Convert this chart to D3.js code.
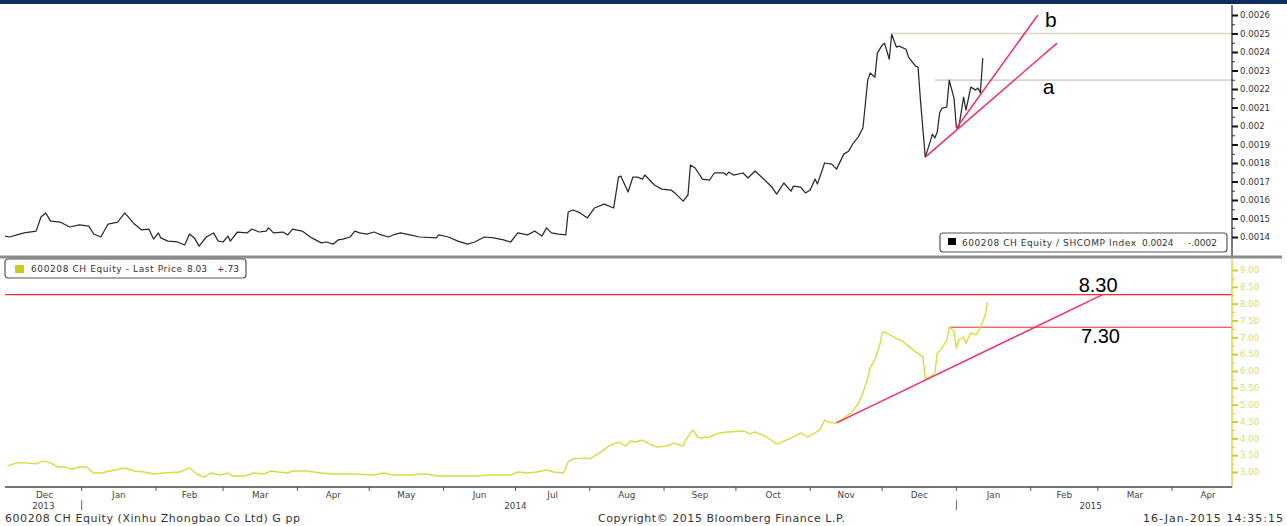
<!DOCTYPE html>
<html><head><meta charset="utf-8">
<script src="https://cdn.jsdelivr.net/npm/d3@7"></script>
<style>html,body{margin:0;padding:0;background:#fff;} svg{display:block;}</style>
</head><body><svg id="c" width="1287" height="526"></svg>
<script>
// ---------- DATA ----------
const ratioSeries = [
["2013-11-30",0.001405],["2013-12-02",0.001400],["2013-12-06",0.001416],["2013-12-08",0.001422],["2013-12-13",0.001432],
["2013-12-15",0.001508],["2013-12-17",0.001530],["2013-12-19",0.001486],["2013-12-23",0.001481],["2013-12-27",0.001454],
["2013-12-31",0.001465],["2014-01-04",0.001459],["2014-01-06",0.001416],["2014-01-09",0.001400],["2014-01-12",0.001470],
["2014-01-16",0.001481],["2014-01-19",0.001530],["2014-01-23",0.001470],["2014-01-26",0.001438],["2014-01-29",0.001443],
["2014-01-31",0.001389],["2014-02-02",0.001422],["2014-02-03",0.001395],["2014-02-06",0.001378],["2014-02-10",0.001373],
["2014-02-13",0.001357],["2014-02-15",0.001416],["2014-02-17",0.001395],["2014-02-19",0.001351],["2014-02-22",0.001400],
["2014-02-25",0.001422],["2014-02-27",0.001378],["2014-03-01",0.001373],["2014-03-03",0.001405],["2014-03-04",0.001378],
["2014-03-07",0.001427],["2014-03-11",0.001422],["2014-03-13",0.001443],["2014-03-16",0.001427],["2014-03-19",0.001432],
["2014-03-20",0.001449],["2014-03-22",0.001422],["2014-03-26",0.001427],["2014-03-28",0.001411],["2014-03-30",0.001443],
["2014-04-03",0.001432],["2014-04-07",0.001395],["2014-04-11",0.001368],["2014-04-13",0.001373],["2014-04-16",0.001362],
["2014-04-18",0.001384],["2014-04-20",0.001389],["2014-04-23",0.001400],["2014-04-25",0.001432],["2014-04-27",0.001422],
["2014-04-30",0.001416],["2014-05-03",0.001427],["2014-05-05",0.001416],["2014-05-09",0.001400],["2014-05-11",0.001411],
["2014-05-14",0.001422],["2014-05-18",0.001411],["2014-05-22",0.001400],["2014-05-29",0.001395],["2014-05-30",0.001411],
["2014-06-03",0.001400],["2014-06-07",0.001378],["2014-06-11",0.001362],["2014-06-14",0.001373],["2014-06-18",0.001400],
["2014-06-22",0.001395],["2014-06-26",0.001384],["2014-06-29",0.001373],["2014-07-02",0.001422],["2014-07-06",0.001411],
["2014-07-09",0.001432],["2014-07-12",0.001405],["2014-07-14",0.001449],["2014-07-16",0.001422],["2014-07-19",0.001416],
["2014-07-22",0.001411],["2014-07-23",0.001535],["2014-07-25",0.001546],["2014-07-28",0.001530],["2014-07-31",0.001503],
["2014-08-03",0.001557],["2014-08-07",0.001578],["2014-08-11",0.001557],["2014-08-13",0.001724],["2014-08-14",0.001729],
["2014-08-17",0.001643],["2014-08-19",0.001724],["2014-08-21",0.001724],["2014-08-23",0.001713],["2014-08-24",0.001735],
["2014-08-28",0.001681],["2014-08-31",0.001659],["2014-09-04",0.001654],["2014-09-06",0.001632],["2014-09-09",0.001594],
["2014-09-11",0.001627],["2014-09-12",0.001789],["2014-09-14",0.001773],["2014-09-17",0.001713],["2014-09-20",0.001708],
["2014-09-22",0.001746],["2014-09-26",0.001746],["2014-09-27",0.001735],["2014-09-28",0.001751],["2014-09-30",0.001735],
["2014-10-04",0.001746],["2014-10-06",0.001719],["2014-10-09",0.001757],["2014-10-13",0.001708],["2014-10-16",0.001670],
["2014-10-18",0.001632],["2014-10-21",0.001692],["2014-10-24",0.001648],["2014-10-25",0.001675],["2014-10-28",0.001670],
["2014-10-30",0.001638],["2014-11-01",0.001654],["2014-11-03",0.001713],["2014-11-04",0.001686],["2014-11-07",0.001800],
["2014-11-10",0.001794],["2014-11-12",0.001767],["2014-11-15",0.001848],["2014-11-17",0.001864],["2014-11-19",0.001908],
["2014-11-21",0.001940],["2014-11-23",0.001989],["2014-11-25",0.002248],["2014-11-26",0.002286],["2014-11-28",0.002264],
["2014-11-29",0.002394],["2014-12-01",0.002437],["2014-12-02",0.002448],["2014-12-04",0.002361],["2014-12-05",0.002496],
["2014-12-07",0.002426],["2014-12-08",0.002432],["2014-12-11",0.002415],["2014-12-12",0.002372],["2014-12-15",0.002323],
["2014-12-16",0.002318],["2014-12-17",0.002140],["2014-12-19",0.001832],["2014-12-21",0.001913],["2014-12-22",0.001956],
["2014-12-23",0.001935],["2014-12-24",0.001967],["2014-12-25",0.002070],["2014-12-26",0.002097],["2014-12-28",0.002102],
["2014-12-29",0.002248],["2014-12-31",0.002151],["2015-01-01",0.001989],["2015-01-02",0.001994],["2015-01-04",0.002156],
["2015-01-05",0.002086],["2015-01-07",0.002210],["2015-01-09",0.002194],["2015-01-10",0.002205],["2015-01-11",0.002178],
["2015-01-12",0.002367]
];

const priceSeries = [
["2013-12-01",3.18],["2013-12-05",3.27],["2013-12-09",3.27],["2013-12-13",3.24],["2013-12-16",3.33],["2013-12-19",3.27],
["2013-12-22",3.15],["2013-12-25",3.15],["2013-12-28",3.09],["2013-12-31",3.15],["2014-01-03",3.15],["2014-01-06",2.97],
["2014-01-09",2.97],["2014-01-13",3.03],["2014-01-19",3.12],["2014-01-23",3.03],["2014-01-27",3.00],["2014-01-31",2.94],
["2014-02-04",2.97],["2014-02-11",3.00],["2014-02-15",3.12],["2014-02-18",2.94],["2014-02-21",2.85],["2014-02-24",2.97],
["2014-02-28",2.91],["2014-03-03",2.97],["2014-03-05",2.88],["2014-03-10",2.88],["2014-03-14",2.97],["2014-03-18",2.94],
["2014-03-21",3.03],["2014-03-24",3.00],["2014-03-28",2.97],["2014-03-30",3.03],["2014-04-05",3.03],["2014-04-11",2.97],
["2014-04-16",2.94],["2014-04-24",2.94],["2014-05-03",2.91],["2014-05-07",2.97],["2014-05-11",2.91],["2014-05-18",2.91],
["2014-05-22",2.94],["2014-05-25",2.94],["2014-05-29",2.88],["2014-06-15",2.88],["2014-06-19",2.91],["2014-06-29",2.91],
["2014-07-02",3.00],["2014-07-06",2.97],["2014-07-10",3.00],["2014-07-14",3.06],["2014-07-17",3.00],["2014-07-21",2.97],
["2014-07-23",3.30],["2014-07-25",3.39],["2014-07-30",3.42],["2014-08-01",3.39],["2014-08-05",3.56],["2014-08-09",3.77],
["2014-08-13",3.89],["2014-08-16",3.77],["2014-08-18",3.92],["2014-08-20",3.89],["2014-08-23",3.95],["2014-08-26",3.83],
["2014-08-29",3.74],["2014-09-02",3.77],["2014-09-05",3.86],["2014-09-09",3.77],["2014-09-10",3.95],["2014-09-13",4.25],
["2014-09-15",4.04],["2014-09-16",4.01],["2014-09-20",4.04],["2014-09-24",4.16],["2014-09-28",4.19],["2014-10-04",4.22],
["2014-10-07",4.13],["2014-10-09",4.19],["2014-10-13",4.07],["2014-10-15",3.98],["2014-10-18",3.83],["2014-10-21",3.92],
["2014-10-25",4.04],["2014-10-28",4.16],["2014-10-31",4.04],["2014-11-03",4.16],["2014-11-05",4.25],["2014-11-07",4.54],
["2014-11-10",4.46],["2014-11-12",4.46],["2014-11-15",4.60],["2014-11-18",4.75],["2014-11-21",5.02],["2014-11-23",5.35],
["2014-11-25",5.79],["2014-11-26",6.09],["2014-11-28",6.33],["2014-11-30",6.77],["2014-12-01",7.13],["2014-12-02",7.16],
["2014-12-05",7.04],["2014-12-10",6.86],["2014-12-14",6.62],["2014-12-18",6.42],["2014-12-19",5.79],["2014-12-21",5.82],
["2014-12-23",5.94],["2014-12-24",6.53],["2014-12-26",6.68],["2014-12-28",6.92],["2014-12-29",7.31],["2014-12-31",7.19],
["2015-01-01",6.68],["2015-01-02",6.92],["2015-01-04",7.01],["2015-01-05",6.83],["2015-01-07",7.13],["2015-01-09",7.07],
["2015-01-10",7.16],["2015-01-11",7.28],["2015-01-13",7.66],["2015-01-14",8.05]
];

const topTickValues = [0.0014,0.0015,0.0016,0.0017,0.0018,0.0019,0.002,0.0021,0.0022,0.0023,0.0024,0.0025,0.0026];
const topTickLabels = ["0.0014","0.0015","0.0016","0.0017","0.0018","0.0019","0.002","0.0021","0.0022","0.0023","0.0024","0.0025","0.0026"];
const botTickValues = [3,3.5,4,4.5,5,5.5,6,6.5,7,7.5,8,8.5,9];
const botTickLabels = ["3.00","3.50","4.00","4.50","5.00","5.50","6.00","6.50","7.00","7.50","8.00","8.50","9.00"];

const monthLabels = ["Dec","Jan","Feb","Mar","Apr","May","Jun","Jul","Aug","Sep","Oct","Nov","Dec","Jan","Feb","Mar","Apr"];
const monthStarts = ["2013-12-01","2014-01-01","2014-02-01","2014-03-01","2014-04-01","2014-05-01","2014-06-01","2014-07-01",
  "2014-08-01","2014-09-01","2014-10-01","2014-11-01","2014-12-01","2015-01-01","2015-02-01","2015-03-01","2015-04-01","2015-05-01"];
const yearLabels = ["2013","2014","2015"];
const yearLabelDates = ["2013-12-16","2014-07-01","2015-02-26"];
const yearBreaks = ["2014-01-01","2015-01-01"];

// annotations (drawn in data space)
const topTrendA = [["2014-12-19",0.001832],["2015-02-12",0.002448]];
const topTrendB = [["2015-01-01",0.001989],["2015-02-04",0.0026]];
const topLevels = [["2014-12-05",0.0025],["2014-12-23",0.002248]];
const topLetters = [["b","2015-02-07",0.002535],["a","2015-02-06",0.002173]];
const botTrend = [["2014-11-12",4.46],["2015-03-03",8.27]];
const botLevels = [[null,8.27],["2014-12-29",7.30]];
const botLevelLabels = [["8.30","2015-02-21",8.35],["7.30","2015-02-22",6.83]];

// ---------- CHART ----------
const svg = d3.select("#c");
const parse = d3.utcParse("%Y-%m-%d");
const X0 = 5, X1 = 1232;
const x = d3.scaleUtc().domain([parse("2013-11-30"), parse("2015-04-26")]).range([X0, X1]);
const yTop = d3.scaleLinear().domain([0.0014, 0.0026]).range([237, 15]);
const yBot = d3.scaleLinear().domain([3, 9]).range([472, 270]);
const FONT = "'DejaVu Sans', Verdana, sans-serif";

svg.append("rect").attr("width",1287).attr("height",526).attr("fill","#fff");
svg.append("rect").attr("x",0).attr("y",0).attr("width",1287).attr("height",4).attr("fill","#0b2d5e");

// top panel reference levels
topLevels.forEach(([d,v]) => {
  svg.append("line").attr("x1", x(parse(d))).attr("x2", X1)
    .attr("y1", yTop(v)).attr("y2", yTop(v))
    .attr("stroke","#d9d6c3").attr("stroke-width",1.6);
});

const lineTop = d3.line().x(d => x(parse(d[0]))).y(d => yTop(d[1]));
svg.append("path").datum(ratioSeries).attr("d", lineTop)
  .attr("fill","none").attr("stroke","#2a2a2a").attr("stroke-width",1.25).attr("stroke-linejoin","round");

[topTrendA, topTrendB].forEach(t => {
  svg.append("path").datum(t).attr("d", lineTop).attr("fill","none")
    .attr("stroke","#f0306a").attr("stroke-width",1.5);
});
topLetters.forEach(([t,d,v]) => {
  svg.append("text").attr("x", x(parse(d))).attr("y", yTop(v)).text(t)
    .attr("font-family","'Liberation Sans', Arial, sans-serif").attr("font-size",21).attr("fill","#000");
});

// top right axis
svg.append("line").attr("x1",X1).attr("x2",X1).attr("y1",5).attr("y2",256).attr("stroke","#222").attr("stroke-width",1.2);
const gTop = svg.append("g").attr("transform",`translate(${X1},0)`)
  .call(d3.axisRight(yTop).tickValues(topTickValues).tickFormat((d,i) => topTickLabels[i]).tickSize(6).tickPadding(2));
gTop.select(".domain").remove();
gTop.selectAll(".tick line").attr("stroke","#111").attr("stroke-width",2);
gTop.selectAll(".tick text").attr("font-family",FONT).attr("font-size",8.6).attr("fill","#333");
const topMinor = topTickValues.slice(0,-1).map((v,i) => (v + topTickValues[i+1]) / 2);
svg.append("g").attr("transform",`translate(${X1},0)`)
  .call(d3.axisRight(yTop).tickValues(topMinor).tickFormat("").tickSize(3))
  .call(g => g.select(".domain").remove())
  .selectAll(".tick line").attr("stroke","#333").attr("stroke-width",1);

// top legend
svg.append("rect").attr("x",940).attr("y",233).attr("width",287).attr("height",19).attr("rx",3)
  .attr("fill","#fff").attr("stroke","#555").attr("stroke-width",1.2);
svg.append("rect").attr("x",948).attr("y",238).attr("width",8).attr("height",7).attr("fill","#000");
svg.append("text").attr("x",962).attr("y",246).text("600208 CH Equity / SHCOMP Index")
  .attr("textLength",174).attr("lengthAdjust","spacing")
  .attr("font-family",FONT).attr("font-size",9).attr("fill","#333");
[["0.0024",1142],["-.0002",1188]].forEach(([t,px]) => {
  svg.append("text").attr("x",px).attr("y",246).text(t)
    .attr("font-family",FONT).attr("font-size",9).attr("fill","#333");
});

// separator
svg.append("line").attr("x1",0).attr("x2",1282).attr("y1",257).attr("y2",257).attr("stroke","#8c8c8c").attr("stroke-width",3);

// bottom panel levels
botLevels.forEach(([d,v]) => {
  svg.append("line").attr("x1", d ? x(parse(d)) : X0).attr("x2", X1)
    .attr("y1", yBot(v)).attr("y2", yBot(v))
    .attr("stroke","#ff2a2a").attr("stroke-width",1.2);
});
const lineBot = d3.line().x(d => x(parse(d[0]))).y(d => yBot(d[1]));
svg.append("path").datum(priceSeries).attr("d", lineBot)
  .attr("fill","none").attr("stroke","#d8dc3c").attr("stroke-width",1.4).attr("stroke-linejoin","round");
svg.append("path").datum(botTrend).attr("d", lineBot).attr("fill","none")
  .attr("stroke","#f0306a").attr("stroke-width",1.5);
botLevelLabels.forEach(([t,d,v]) => {
  svg.append("text").attr("x", x(parse(d))).attr("y", yBot(v)).text(t)
    .attr("font-family","'Liberation Sans', Arial, sans-serif").attr("font-size",20).attr("fill","#000");
});

// bottom right axis
svg.append("line").attr("x1",X1).attr("x2",X1).attr("y1",259).attr("y2",487).attr("stroke","#d4d236").attr("stroke-width",1.4);
const gBot = svg.append("g").attr("transform",`translate(${X1},0)`)
  .call(d3.axisRight(yBot).tickValues(botTickValues).tickFormat((d,i) => botTickLabels[i]).tickSize(6).tickPadding(2));
gBot.select(".domain").remove();
gBot.selectAll(".tick line").attr("stroke","#cfcd2a").attr("stroke-width",2);
gBot.selectAll(".tick text").attr("font-family",FONT).attr("font-size",8.6).attr("fill","#dcdc6a");
const botMinor = botTickValues.slice(0,-1).map((v,i) => (v + botTickValues[i+1]) / 2);
svg.append("g").attr("transform",`translate(${X1},0)`)
  .call(d3.axisRight(yBot).tickValues(botMinor).tickFormat("").tickSize(3))
  .call(g => g.select(".domain").remove())
  .selectAll(".tick line").attr("stroke","#d4d236").attr("stroke-width",1);

// bottom legend
svg.append("rect").attr("x",5).attr("y",259).attr("width",241).attr("height",19).attr("rx",3)
  .attr("fill","#fff").attr("stroke","#555").attr("stroke-width",1.2);
svg.append("rect").attr("x",15).attr("y",265).attr("width",9).attr("height",8).attr("fill","#c8cc1e");
svg.append("text").attr("x",31).attr("y",272).text("600208 CH Equity - Last Price")
  .attr("textLength",151).attr("lengthAdjust","spacing")
  .attr("font-family",FONT).attr("font-size",9).attr("fill","#333");
[["8.03",187],["+.73",217]].forEach(([t,px]) => {
  svg.append("text").attr("x",px).attr("y",272).text(t)
    .attr("font-family",FONT).attr("font-size",9).attr("fill","#333");
});

// x axis
svg.append("line").attr("x1",X0).attr("x2",X1).attr("y1",487).attr("y2",487).attr("stroke","#444").attr("stroke-width",1.3);
const ms = monthStarts.map(parse);
svg.append("g").selectAll("line").data(ms.slice(1,-1)).join("line")
  .attr("x1", d => x(d)).attr("x2", d => x(d)).attr("y1",487).attr("y2",491)
  .attr("stroke","#555").attr("stroke-width",1);
svg.append("g").selectAll("text").data(monthLabels).join("text")
  .attr("x", (d,i) => (x(ms[i]) + x(ms[i+1])) / 2).attr("y",498)
  .attr("text-anchor","middle").text(d => d)
  .attr("font-family",FONT).attr("font-size",8.8).attr("fill","#444");
svg.append("g").selectAll("text").data(yearLabels).join("text")
  .attr("x", (d,i) => x(parse(yearLabelDates[i]))).attr("y",509)
  .attr("text-anchor","middle").text(d => d)
  .attr("font-family",FONT).attr("font-size",8.8).attr("fill","#444");
svg.append("g").selectAll("line").data(yearBreaks).join("line")
  .attr("x1", d => x(parse(d))).attr("x2", d => x(parse(d))).attr("y1",500).attr("y2",510)
  .attr("stroke","#666").attr("stroke-width",1);

// footer
const foot = (t, px, w) => svg.append("text").attr("x",px).attr("y",522).text(t)
  .attr("textLength",w).attr("lengthAdjust","spacing")
  .attr("font-family",FONT).attr("font-size",11).attr("fill","#333");
foot("600208 CH Equity (Xinhu Zhongbao Co Ltd) G pp", 5, 295);
foot("Copyright\u00a9 2015 Bloomberg Finance L.P.", 598, 247);
foot("16-Jan-2015 14:35:15", 1143, 140);
</script></body></html>
